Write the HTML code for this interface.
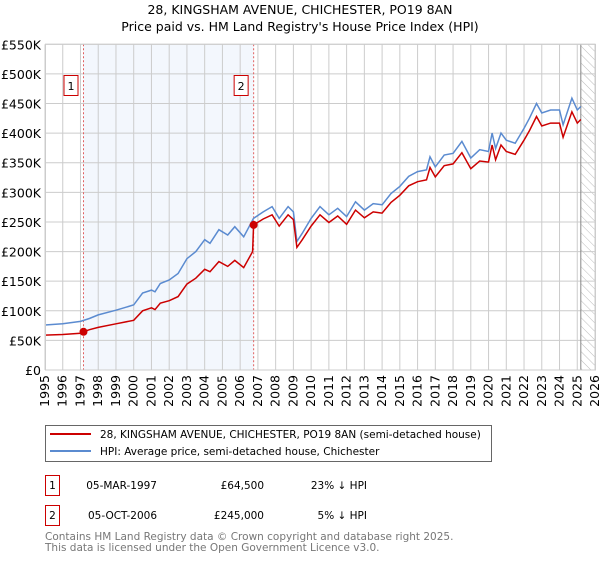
<!DOCTYPE html>
<html><head><meta charset="utf-8"><style>
body{margin:0;background:#fff}
svg{font-family:"DejaVu Sans","Liberation Sans",sans-serif}
</style></head><body>
<svg width="600" height="560" viewBox="0 0 600 560" xmlns="http://www.w3.org/2000/svg">
<defs><pattern id="hatch" width="6" height="6" patternUnits="userSpaceOnUse" patternTransform="rotate(-45)"><line x1="0" y1="0" x2="0" y2="6" stroke="#bbb" stroke-width="1"/></pattern></defs>
<text x="300" y="14" text-anchor="middle" font-size="12.5">28, KINGSHAM AVENUE, CHICHESTER, PO19 8AN</text>
<text x="300" y="31" text-anchor="middle" font-size="12.5">Price paid vs. HM Land Registry's House Price Index (HPI)</text>
<g id="plot"></g>
<g>
<rect x="45.5" y="425.5" width="446" height="36" fill="#fff" stroke="#666"/>
<line x1="50" y1="434" x2="91" y2="434" stroke="#cc0000" stroke-width="2"/>
<text x="100" y="438" font-size="10.5">28, KINGSHAM AVENUE, CHICHESTER, PO19 8AN (semi-detached house)</text>
<line x1="50" y1="451" x2="91" y2="451" stroke="#5b8bd0" stroke-width="2"/>
<text x="100" y="455" font-size="10.5">HPI: Average price, semi-detached house, Chichester</text>
</g>
<g font-size="10.5">
<rect x="45.5" y="475.5" width="14" height="20" fill="#fff" stroke="#cc0000"/>
<text x="52.5" y="489" text-anchor="middle">1</text>
<text x="157" y="489" text-anchor="end">05-MAR-1997</text>
<text x="264" y="489" text-anchor="end">£64,500</text>
<text x="367" y="489" text-anchor="end">23% ↓ HPI</text>
<rect x="45.5" y="505.5" width="14" height="20" fill="#fff" stroke="#cc0000"/>
<text x="52.5" y="519" text-anchor="middle">2</text>
<text x="157" y="519" text-anchor="end">05-OCT-2006</text>
<text x="264" y="519" text-anchor="end">£245,000</text>
<text x="367" y="519" text-anchor="end">5% ↓ HPI</text>
</g>
<text x="45" y="540" font-size="10.5" fill="#777">Contains HM Land Registry data © Crown copyright and database right 2025.</text>
<text x="45" y="551" font-size="10.5" fill="#777">This data is licensed under the Open Government Licence v3.0.</text>
</svg>
<script>
const yTicks=[0,50,100,150,200,250,300,350,400,450,500,550];
const yTickLabels=["£0","£50K","£100K","£150K","£200K","£250K","£300K","£350K","£400K","£450K","£500K","£550K"];
const xTicks=[1995,1996,1997,1998,1999,2000,2001,2002,2003,2004,2005,2006,2007,2008,2009,2010,2011,2012,2013,2014,2015,2016,2017,2018,2019,2020,2021,2022,2023,2024,2025,2026];
const hpiDates=[1995,1996,1997,1997.5,1998,1999,2000,2000.5,2001,2001.2,2001.5,2002,2002.5,2003,2003.5,2004,2004.3,2004.8,2005.3,2005.7,2006.2,2006.75,2007.3,2007.8,2008.2,2008.7,2009.0,2009.2,2009.5,2010,2010.5,2011,2011.5,2012,2012.5,2013,2013.5,2014,2014.5,2015,2015.5,2016,2016.5,2016.7,2017,2017.5,2018,2018.5,2019,2019.5,2020,2020.2,2020.4,2020.7,2021,2021.5,2022,2022.3,2022.7,2023,2023.5,2024,2024.2,2024.7,2025,2025.2];
const hpiValues=[76,78,82,87,93,101,110,130,135,132,146,152,163,188,200,220,214,237,228,242,225,256,267,276,256,276,267,217,231,256,276,262,273,259,284,270,281,279,298,310,327,335,338,360,343,363,366,386,358,372,369,400,374,400,388,383,408,425,450,434,439,439,414,459,439,445];
const priceDates=[1995,1996,1997,1997.17,1997.5,1998,1999,2000,2000.5,2001,2001.2,2001.5,2002,2002.5,2003,2003.5,2004,2004.3,2004.8,2005.3,2005.7,2006.2,2006.7,2006.76,2007.3,2007.8,2008.2,2008.7,2009.0,2009.2,2009.5,2010,2010.5,2011,2011.5,2012,2012.5,2013,2013.5,2014,2014.5,2015,2015.5,2016,2016.5,2016.7,2017,2017.5,2018,2018.5,2019,2019.5,2020,2020.2,2020.4,2020.7,2021,2021.5,2022,2022.3,2022.7,2023,2023.5,2024,2024.2,2024.7,2025,2025.2];
const priceValues=[59,60,62,64.5,68,72,78,84,100,105,102,113,117,124,145,155,170,166,183,175,185,173,200,245,255,262,243,262,254,207,220,243,262,249,260,246,270,257,267,265,283,295,311,318,321,342,326,345,348,367,340,353,351,380,355,380,369,364,388,404,428,412,417,417,393,436,417,423];
const saleDates=[1997.17,2006.76];
const saleValues=[64.5,245];
const saleLabels=["1","2"];
const X0=45,X1=595,Y0=370,Y1=44.3;
const x=t=>X0+(t-1995)/(2026-1995)*(X1-X0);
const y=v=>Y0-v/550*(Y0-Y1);
const NS="http://www.w3.org/2000/svg";
const g=document.getElementById('plot');
function mk(tag,a){const e=document.createElementNS(NS,tag);for(const k in a)e.setAttribute(k,a[k]);g.appendChild(e);return e;}
let e=mk('rect',{x:x(saleDates[0]),y:Y1,width:x(saleDates[1])-x(saleDates[0]),height:Y0-Y1,fill:'#eef3fc',opacity:0.7});


e=mk('rect',{x:x(2025.2),y:Y1,width:X1-x(2025.2),height:Y0-Y1,fill:'url(#hatch)'});


yTicks.forEach((v,i)=>{
 e=mk('line',{x1:X0,x2:X1,y1:y(v),y2:y(v),stroke:'#ccc','stroke-width':1});
 
 
 e=mk('text',{x:X0-4,y:y(v)+5,'text-anchor':'end','font-size':12.5});
 e.textContent=yTickLabels[i];
 
 
});
xTicks.forEach(t=>{
 e=mk('line',{x1:x(t),x2:x(t),y1:Y1,y2:Y0,stroke:'#ccc','stroke-width':1});
 
 
 e=mk('text',{x:x(t)+4,y:Y0+5,'text-anchor':'end','font-size':12.5,transform:`rotate(-90 ${x(t)+4} ${Y0+5})`});
 e.textContent=t;
 
 
});
e=mk('line',{x1:x(2025.2),x2:x(2025.2),y1:Y1,y2:Y0,stroke:'#888','stroke-width':1});


saleDates.forEach((d,i)=>{
 e=mk('line',{x1:x(d),x2:x(d),y1:Y1,y2:Y0,stroke:'#e06060','stroke-width':1,'stroke-dasharray':'2,2'});
 
 
});
e=mk('path',{d:hpiDates.map((d,i)=>(i?'L':'M')+x(d).toFixed(1)+','+y(hpiValues[i]).toFixed(1)).join(''),fill:'none',stroke:'#5b8bd0','stroke-width':1.5});


e=mk('path',{d:priceDates.map((d,i)=>(i?'L':'M')+x(d).toFixed(1)+','+y(priceValues[i]).toFixed(1)).join(''),fill:'none',stroke:'#cc0000','stroke-width':1.5});


saleDates.forEach((d,i)=>{
 e=mk('circle',{cx:x(d),cy:y(saleValues[i]),r:4,fill:'#cc0000'});
 
 
 e=mk('rect',{x:x(d)-19.5,y:75.5,width:14,height:20,fill:'#fff',stroke:'#cc0000'});
 
 
 e=mk('text',{x:x(d)-12.5,y:90,'text-anchor':'middle','font-size':11});
 e.textContent=saleLabels[i];
 
 
});
e=mk('rect',{x:X0+0.5,y:Y1,width:X1-X0,height:Y0-Y1,fill:'none',stroke:'#ccc'});


</script>
</body></html>
